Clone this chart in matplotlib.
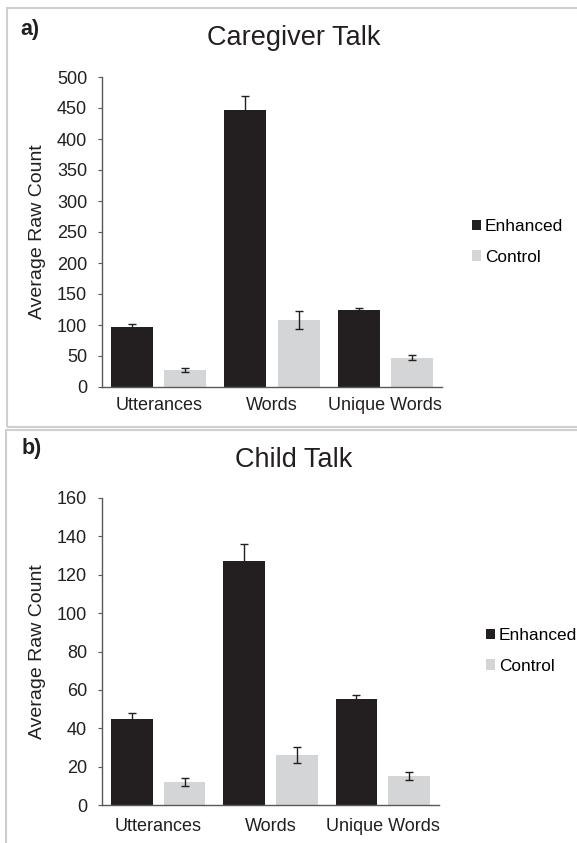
import matplotlib
matplotlib.use('Agg')
import matplotlib.pyplot as plt
import numpy as np
from matplotlib.patches import Rectangle

plt.rcParams['font.family'] = ['Liberation Sans', 'DejaVu Sans']

categories = ['Utterances', 'Words', 'Unique Words']
groups = ['Enhanced', 'Control']

# a) caregiver talk
care_enh = [96, 447, 124]
care_enh_err = [5, 23, 4]
care_ctl = [27, 108, 47]
care_ctl_err = [3, 14, 4]

# b) child talk
child_enh = [45, 127, 55]
child_enh_err = [3, 9, 2.5]
child_ctl = [12, 26, 15]
child_ctl_err = [2, 4, 2]

ENH = '#231f20'
CTL = '#d4d5d6'
TXT = '#231f20'

W, H = 577, 843
fig = plt.figure(figsize=(W / 100, H / 100), dpi=100)


def panel(rect, enh, enh_err, ctl, ctl_err, ymax, ystep, title, title_y, tag, leg_xy, box, xpad):
    ax = fig.add_axes(rect)
    x = np.arange(len(categories))
    bw = 0.37
    off = 0.235
    ax.bar(x - off, enh, bw, color=ENH, label=groups[0], zorder=2)
    ax.bar(x + off, ctl, bw, color=CTL, label=groups[1], zorder=2)
    ax.errorbar(x - off, enh, yerr=enh_err, fmt='none', ecolor=TXT,
                elinewidth=1, capsize=2.7, capthick=1, zorder=1)
    ax.errorbar(x + off, ctl, yerr=ctl_err, fmt='none', ecolor=TXT,
                elinewidth=1, capsize=2.7, capthick=1, zorder=3)
    ax.set_xlim(-0.5, 2.5)
    ax.set_ylim(0, ymax)
    ax.set_yticks(np.arange(0, ymax + 1, ystep))
    ax.set_xticks(x)
    ax.set_xticklabels(categories)
    for s in ['top', 'right']:
        ax.spines[s].set_visible(False)
    for s in ['left', 'bottom']:
        ax.spines[s].set_color('#595959')
        ax.spines[s].set_linewidth(1)
    ax.tick_params(axis='y', direction='out', length=3.2, color='#595959',
                   labelsize=13, labelcolor=TXT, pad=7.5)
    ax.tick_params(axis='x', length=0, labelsize=13, labelcolor=TXT, pad=xpad)
    ax.set_ylabel('Average Raw Count', fontsize=14, color=TXT, labelpad=8)
    fig.text(294 / W, title_y, title, fontsize=19.5, color=TXT, ha='center', va='center')
    ax.legend(loc='center left', bbox_to_anchor=leg_xy, bbox_transform=fig.transFigure,
              frameon=False, fontsize=12.4, handlelength=0.55, handleheight=0.55,
              handletextpad=0.2, labelspacing=0.9, borderaxespad=0, borderpad=0)
    fig.text(tag[0], tag[1], tag[2], fontsize=15.5, fontweight='bold', color=TXT,
             ha='left', va='center')
    fig.add_artist(Rectangle((box[0], box[1]), box[2], box[3], transform=fig.transFigure,
                             fill=False, edgecolor='#cfcfcf', linewidth=1.5))
    return ax


panel([102 / W, 1 - 387 / H, 340 / W, 310 / H], care_enh, care_enh_err, care_ctl, care_ctl_err,
      500, 50, 'Caregiver Talk', 1 - 38 / H, (20 / W, 1 - 30 / H, 'a)'), (472 / W, 1 - 242 / H),
      (7 / W, 1 - 427 / H, 1.0, 419 / H), 7)
panel([102 / W, 1 - 805 / H, 337 / W, 307 / H], child_enh, child_enh_err, child_ctl, child_ctl_err,
      160, 20, 'Child Talk', 1 - 460 / H, (22 / W, 1 - 449 / H, 'b)'), (486 / W, 1 - 651 / H),
      (6 / W, -0.01, 1.0, 1 - 430 / H + 0.01), 9.5)

fig.savefig('out.png', dpi=100)
